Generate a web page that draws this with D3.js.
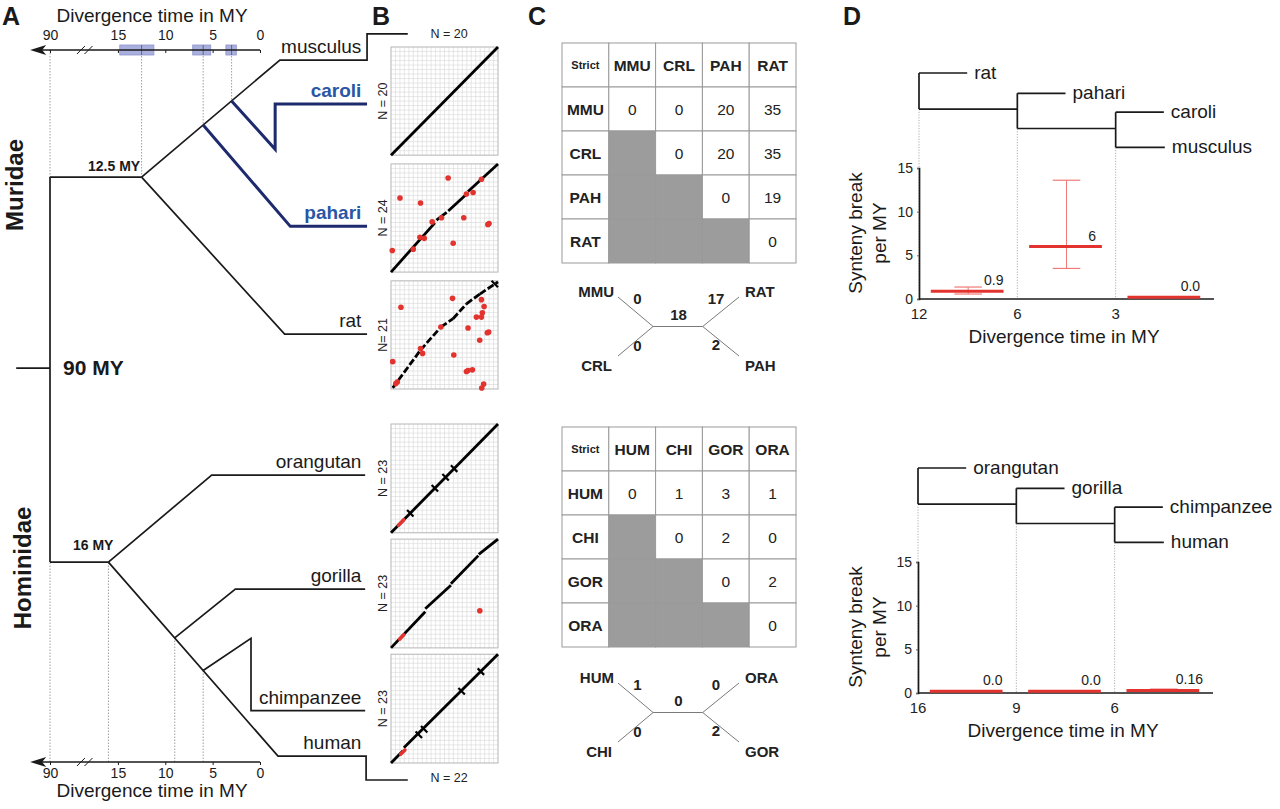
<!DOCTYPE html>
<html>
<head>
<meta charset="utf-8">
<script src="https://cdn.jsdelivr.net/npm/d3@7"></script>
<style>
  body { margin: 0; background: #fff; }
  text { font-family: "Liberation Sans", Arial, Helvetica, sans-serif; }
</style>
</head>
<body>
<svg id="fig" width="1280" height="809"></svg>
<script>
// ---------- panel A: dated trees ----------
var timeTicks = [90, 15, 10, 5, 0];
var ageBoxes = [[14.8, 11.2], [7.1, 5.2], [3.6, 2.5]];
var ageMarks = [12.5, 6, 3];
var murNodeTimes = [12.5, 6, 3];
var homNodeTimes = [16, 9, 6];
var murLeaves = [
  { name: "musculus", row: 0.052, blue: false },
  { name: "caroli", row: 0.109, blue: true },
  { name: "pahari", row: 0.268, blue: true },
  { name: "rat", row: 0.408, blue: false }
];
var homLeaves = [
  { name: "orangutan", row: 0.591 },
  { name: "gorilla", row: 0.739 },
  { name: "chimpanzee", row: 0.897 },
  { name: "human", row: 0.956 }
];

// ---------- panel B: dot plots ----------
var dotPlotsTop = [
  { n: "N = 20", segs: [[0, 0, 1, 1]], dashed: false, crosses: [], red: [], redSegs: [] },
  { n: "N = 24", dashed: false, crosses: [], redSegs: [],
    segs: [[0, 0, 0.41, 0.455], [0.425, 0.48, 0.52, 0.552], [0.535, 0.565, 0.705, 0.72], [0.72, 0.745, 1, 1]],
    red: [[0.534, 0.87], [0.084, 0.685], [0.276, 0.639], [0.845, 0.858], [0.705, 0.721], [0.767, 0.736],
          [0.68, 0.503], [0.385, 0.464], [0.472, 0.503], [0.916, 0.448], [0.905, 0.44], [0.27, 0.321],
          [0.311, 0.312], [0.581, 0.267], [0.012, 0.2], [0.208, 0.212]] },
  { n: "N= 21", dashed: true, crosses: [0.97], redSegs: [],
    segs: [[0.016, 0.01, 0.276, 0.36], [0.276, 0.36, 0.466, 0.573], [0.466, 0.573, 0.58, 0.65],
           [0.58, 0.65, 0.705, 0.787], [0.705, 0.787, 0.83, 0.878], [0.83, 0.878, 1, 0.99]],
    red: [[0.575, 0.838], [0.093, 0.756], [0.466, 0.573], [0.276, 0.375], [0.295, 0.329], [0.016, 0.253],
          [0.059, 0.064], [0.045, 0.05], [0.587, 0.314], [0.72, 0.564], [0.798, 0.665], [0.845, 0.665],
          [0.854, 0.704], [0.87, 0.762], [0.845, 0.826], [0.913, 0.527], [0.9, 0.52], [0.829, 0.451],
          [0.705, 0.162], [0.72, 0.17], [0.761, 0.177], [0.866, 0.046], [0.848, 0.009]] }
];
var dotPlotsBottom = [
  { n: "N = 23", segs: [[0, 0, 1, 1]], dashed: false, crosses: [0.18, 0.41, 0.51, 0.59],
    red: [], redSegs: [[0.07, 0.07, 0.12, 0.12]] },
  { n: "N = 23", dashed: false, crosses: [],
    segs: [[0, 0, 0.32, 0.333], [0.32, 0.36, 0.56, 0.576], [0.56, 0.59, 0.816, 0.848], [0.82, 0.86, 1, 1]],
    red: [[0.83, 0.342]], redSegs: [[0.08, 0.08, 0.12, 0.12]] },
  { n: "N = 23", dashed: false, crosses: [0.26, 0.31, 0.66, 0.84],
    segs: [[0, 0, 0.11, 0.11], [0.12, 0.14, 1, 1]],
    red: [], redSegs: [[0.09, 0.08, 0.13, 0.12]] }
];

// ---------- panel C: break tables ----------
var murCodes = ["MMU", "CRL", "PAH", "RAT"];
var murBreaks = [[0, 0, 20, 35], [null, 0, 20, 35], [null, null, 0, 19], [null, null, null, 0]];
var murUnrooted = { ul: "MMU", ll: "CRL", ur: "RAT", lr: "PAH", vul: "0", vll: "0", vmid: "18", vur: "17", vlr: "2" };
var homCodes = ["HUM", "CHI", "GOR", "ORA"];
var homBreaks = [[0, 1, 3, 1], [null, 0, 2, 0], [null, null, 0, 2], [null, null, null, 0]];
var homUnrooted = { ul: "HUM", ll: "CHI", ur: "ORA", lr: "GOR", vul: "1", vll: "0", vmid: "0", vur: "0", vlr: "2" };

// ---------- panel D: rates ----------
var murDLeaves = ["rat", "pahari", "caroli", "musculus"];
var murDTicks = ["12", "6", "3"];
var murRates = [0.9, 6, 0.2];
var murErr = [[0.57, 1.37], [3.5, 13.6], null];
var murRateLabels = ["0.9", "6", "0.0"];
var homDLeaves = ["orangutan", "gorilla", "chimpanzee", "human"];
var homDTicks = ["16", "9", "6"];
var homRates = [0.2, 0.2, 0.3];
var homErr = [null, null, [0.25, 0.45]];
var homRateLabels = ["0.0", "0.0", "0.16"];
var rateTicks = [0, 5, 10, 15];

var ink = "#1a1a1a", navy = "#1d2a6e", blue = "#2a56a6", red = "#e3332f";
var svg = d3.select("#fig");

function panelLetter(t, x) {
  svg.append("text").attr("x", x).attr("y", 25).attr("font-size", 25).attr("font-weight", "bold")
    .attr("fill", ink).text(t);
}
panelLetter("A", 2); panelLetter("B", 372); panelLetter("C", 528); panelLetter("D", 843);

// ===== A =====
var xA = d3.scaleLinear().domain([90, 19, 0]).range([50, 80, 260]);
var yA = d3.scaleLinear().domain([0, 1]).range([20, 790]);
var line = d3.line().x(function (d) { return xA(d[0]); }).y(function (d) { return yA(d[1]); });
var gA = svg.append("g");

function onDiag(a, b, t) {
  var k = (t - a[0]) / (b[0] - a[0]);
  return [t, a[1] + k * (b[1] - a[1])];
}
var murNode = [murNodeTimes[0], 0.204], murElbow = [-2.1, 0.052];
var homNode = [homNodeTimes[0], 0.704], homElbow = [-1.9, 0.956];
var tipT = -11.3, outT = -15.6;

var branches = [
  { pts: [[90, 0.204], [90, 0.704]] },
  { pts: [[170, 0.452], [90, 0.452]] },
  { pts: [[90, 0.204], murNode] },
  { pts: [murNode, murElbow, [tipT, 0.052], [tipT, 0.018], [outT, 0.018]] },
  { pts: [onDiag(murNode, murElbow, murNodeTimes[2]), [-1.6, 0.168], [-1.6, 0.109], [tipT, 0.109]], navy: true },
  { pts: [onDiag(murNode, murElbow, murNodeTimes[1]), [-3.2, 0.268], [tipT, 0.268]], navy: true },
  { pts: [murNode, [-2.6, 0.408], [tipT, 0.408]] },
  { pts: [[90, 0.704], homNode] },
  { pts: [homNode, [5.1, 0.591], [-11.1, 0.591]] },
  { pts: [homNode, homElbow, [-11.2, 0.956], [-11.2, 0.987], [outT, 0.987]] },
  { pts: [onDiag(homNode, homElbow, homNodeTimes[1]), [2.6, 0.739], [-11.1, 0.739]] },
  { pts: [onDiag(homNode, homElbow, homNodeTimes[2]), [0.95, 0.803], [0.95, 0.897], [-11.1, 0.897]] }
];

// dotted guides
var topAxisY = 50, botAxisY = 762;
var guidesTop = [[90, 0.204], murNode, onDiag(murNode, murElbow, 6), onDiag(murNode, murElbow, 3)];
var guidesBot = [[90, 0.704], homNode, onDiag(homNode, homElbow, 9), onDiag(homNode, homElbow, 6)];
guidesTop.forEach(function (p) {
  gA.append("line").attr("x1", xA(p[0])).attr("x2", xA(p[0])).attr("y1", topAxisY).attr("y2", yA(p[1]))
    .attr("stroke", "#888").attr("stroke-width", 0.8).attr("stroke-dasharray", "1.5,1.5");
});
guidesBot.forEach(function (p) {
  gA.append("line").attr("x1", xA(p[0])).attr("x2", xA(p[0])).attr("y1", botAxisY).attr("y2", yA(p[1]))
    .attr("stroke", "#888").attr("stroke-width", 0.8).attr("stroke-dasharray", "1.5,1.5");
});

branches.forEach(function (b) {
  gA.append("path").attr("d", line(b.pts)).attr("fill", "none")
    .attr("stroke", b.navy ? navy : ink).attr("stroke-width", b.navy ? 3 : 1.7)
    .attr("stroke-linejoin", "miter");
});

// age boxes on the top axis
ageBoxes.forEach(function (b) {
  gA.append("rect").attr("x", xA(b[0])).attr("y", topAxisY - 5).attr("width", xA(b[1]) - xA(b[0]))
    .attr("height", 10).attr("fill", "#aab0de").attr("stroke", "#8c93cc").attr("stroke-width", 0.8);
});
ageMarks.forEach(function (t) {
  gA.append("line").attr("x1", xA(t)).attr("x2", xA(t)).attr("y1", topAxisY - 5).attr("y2", topAxisY + 5)
    .attr("stroke", "#555").attr("stroke-width", 0.8);
});

function timeAxis(y, top) {
  var ax = (top ? d3.axisTop(xA) : d3.axisBottom(xA)).tickValues(timeTicks).tickSize(top ? -3 : 3)
    .tickPadding(top ? 10 : 3);
  var g = gA.append("g").attr("transform", "translate(0," + y + ")").call(ax);
  g.select(".domain").remove();
  g.selectAll(".tick line").attr("stroke", ink);
  g.selectAll(".tick text").attr("font-size", 14).attr("fill", ink)
    .attr("font-family", '"Liberation Sans", Arial, sans-serif');
  g.append("line").attr("x1", xA(0)).attr("x2", xA(125)).attr("y1", 0).attr("y2", 0)
    .attr("stroke", ink).attr("stroke-width", 1.4);
  var ax0 = xA(137);
  g.append("path").attr("d", "M" + ax0 + ",0 L" + (ax0 + 16) + ",-5 L" + (ax0 + 12) + ",0 L" + (ax0 + 16) + ",5 Z")
    .attr("fill", ink);
  [18.9, 18.1].forEach(function (t) {
    g.append("line").attr("x1", xA(t) - 4).attr("x2", xA(t) + 4).attr("y1", 4).attr("y2", -4)
      .attr("stroke", ink).attr("stroke-width", 1);
  });
  gA.append("text").attr("x", 152).attr("y", top ? 22 : 797).attr("text-anchor", "middle")
    .attr("font-size", 19).attr("fill", ink).text("Divergence time in MY");
}
timeAxis(topAxisY, true);
timeAxis(botAxisY, false);

murLeaves.forEach(function (l) {
  gA.append("text").attr("x", xA(-10.7)).attr("y", yA(l.row) - 7).attr("text-anchor", "end")
    .attr("font-size", 19).attr("font-weight", l.blue ? "bold" : "normal")
    .attr("fill", l.blue ? blue : ink).text(l.name);
});
homLeaves.forEach(function (l) {
  gA.append("text").attr("x", xA(-10.7)).attr("y", yA(l.row) - 7).attr("text-anchor", "end")
    .attr("font-size", 19).attr("fill", ink).text(l.name);
});

gA.append("text").attr("x", 88).attr("y", 171).attr("font-size", 14).attr("font-weight", "bold")
  .attr("fill", ink).text(murNodeTimes[0] + " MY");
gA.append("text").attr("x", 73).attr("y", 550).attr("font-size", 14).attr("font-weight", "bold")
  .attr("fill", ink).text(homNodeTimes[0] + " MY");
gA.append("text").attr("x", 63).attr("y", 375).attr("font-size", 21).attr("font-weight", "bold")
  .attr("fill", ink).text("90 MY");
gA.append("text").attr("transform", "translate(23,185) rotate(-90)").attr("text-anchor", "middle")
  .attr("font-size", 24).attr("font-weight", "bold").attr("fill", ink).text("Muridae");
gA.append("text").attr("transform", "translate(31,568) rotate(-90)").attr("text-anchor", "middle")
  .attr("font-size", 24).attr("font-weight", "bold").attr("fill", ink).text("Hominidae");

// ===== B =====
var gB = svg.append("g");
var xB = d3.scaleLinear().domain([0, 1]).range([391, 498]);
var bandTop = d3.scaleBand().domain(d3.range(3)).range([47, 389]).paddingInner(0.075);
var bandBot = d3.scaleBand().domain(d3.range(3)).range([424, 763]).paddingInner(0.055);

function dotPlot(p, y0, h) {
  var yB = d3.scaleLinear().domain([0, 1]).range([y0 + h, y0]);
  var g = gB.append("g");
  g.append("rect").attr("x", xB(0)).attr("y", y0).attr("width", xB(1) - xB(0)).attr("height", h)
    .attr("fill", "#fff");
  d3.range(1, 24).forEach(function (i) {
    var f = i / 24;
    g.append("line").attr("x1", xB(f)).attr("x2", xB(f)).attr("y1", y0).attr("y2", y0 + h)
      .attr("stroke", "#d6d6d6").attr("stroke-width", 0.6);
    g.append("line").attr("x1", xB(0)).attr("x2", xB(1)).attr("y1", yB(f)).attr("y2", yB(f))
      .attr("stroke", "#d6d6d6").attr("stroke-width", 0.6);
  });
  g.append("rect").attr("x", xB(0)).attr("y", y0).attr("width", xB(1) - xB(0)).attr("height", h)
    .attr("fill", "none").attr("stroke", "#b5b5b5").attr("stroke-width", 1);
  p.segs.forEach(function (s) {
    g.append("line").attr("x1", xB(s[0])).attr("y1", yB(s[1])).attr("x2", xB(s[2])).attr("y2", yB(s[3]))
      .attr("stroke", "#000").attr("stroke-width", 2.8)
      .attr("stroke-dasharray", p.dashed ? "7,2.5" : null);
  });
  p.crosses.forEach(function (f) {
    g.append("line").attr("x1", xB(f - 0.03)).attr("y1", yB(f + 0.03)).attr("x2", xB(f + 0.03)).attr("y2", yB(f - 0.03))
      .attr("stroke", "#000").attr("stroke-width", 2.2);
  });
  p.redSegs.forEach(function (s) {
    g.append("line").attr("x1", xB(s[0])).attr("y1", yB(s[1])).attr("x2", xB(s[2])).attr("y2", yB(s[3]))
      .attr("stroke", red).attr("stroke-width", 3.6).attr("stroke-linecap", "round");
  });
  g.selectAll("circle.r").data(p.red).enter().append("circle")
    .attr("cx", function (d) { return xB(d[0]); }).attr("cy", function (d) { return yB(d[1]); })
    .attr("r", 2.8).attr("fill", red);
  g.append("text").attr("transform", "translate(387," + (y0 + h / 2) + ") rotate(-90)")
    .attr("text-anchor", "middle").attr("font-size", 12.5).attr("fill", "#222").text(p.n);
}
dotPlotsTop.forEach(function (p, i) { dotPlot(p, bandTop(i), bandTop.bandwidth()); });
dotPlotsBottom.forEach(function (p, i) { dotPlot(p, bandBot(i), bandBot.bandwidth()); });
gB.append("text").attr("x", 449).attr("y", 38).attr("text-anchor", "middle").attr("font-size", 12.5)
  .attr("fill", "#222").text("N = 20");
gB.append("text").attr("x", 449).attr("y", 782).attr("text-anchor", "middle").attr("font-size", 12.5)
  .attr("fill", "#222").text("N = 22");

// ===== C =====
var gC = svg.append("g");
var colC = d3.scaleBand().domain(d3.range(5)).range([562, 796]);

function breakTable(top, codes, vals) {
  var rowC = d3.scaleBand().domain(d3.range(5)).range([top, top + 220]);
  var cw = colC.bandwidth(), rh = rowC.bandwidth();
  d3.range(5).forEach(function (r) {
    d3.range(5).forEach(function (c) {
      var filled = r > 0 && c > 0 && vals[r - 1][c - 1] === null;
      gC.append("rect").attr("x", colC(c)).attr("y", rowC(r)).attr("width", cw).attr("height", rh)
        .attr("fill", filled ? "#9c9c9c" : "#fff").attr("stroke", "#999").attr("stroke-width", 1);
      var txt = null, bold = false, fs = 15.5;
      if (r === 0 && c === 0) { txt = "Strict"; bold = true; fs = 11; }
      else if (r === 0) { txt = codes[c - 1]; bold = true; }
      else if (c === 0) { txt = codes[r - 1]; bold = true; }
      else if (!filled) { txt = String(vals[r - 1][c - 1]); }
      if (txt !== null) {
        gC.append("text").attr("x", colC(c) + cw / 2).attr("y", rowC(r) + rh / 2 + fs * 0.36)
          .attr("text-anchor", "middle").attr("font-size", fs).attr("font-weight", bold ? "bold" : "normal")
          .attr("fill", "#222").text(txt);
      }
    });
  });
}
breakTable(43, murCodes, murBreaks);
breakTable(427, homCodes, homBreaks);

function unrooted(cy, t) {
  var ux = d3.scaleLinear().domain([-1, 1]).range([618, 739]);
  var uy = d3.scaleLinear().domain([-1, 1]).range([cy - 30, cy + 29]);
  var segs = [[-1, -1, -0.42, 0], [-1, 1, -0.42, 0], [-0.42, 0, 0.4, 0], [0.4, 0, 1, -1], [0.4, 0, 1, 1]];
  segs.forEach(function (s) {
    gC.append("line").attr("x1", ux(s[0])).attr("y1", uy(s[1])).attr("x2", ux(s[2])).attr("y2", uy(s[3]))
      .attr("stroke", "#7a7a7a").attr("stroke-width", 1);
  });
  function lab(x, y, s, anchor) {
    gC.append("text").attr("x", x).attr("y", y).attr("text-anchor", anchor).attr("font-size", 15)
      .attr("font-weight", "bold").attr("fill", "#222").text(s);
  }
  lab(ux(-1) - 4, uy(-1), t.ul, "end");
  lab(ux(-1) - 6, uy(1) + 15, t.ll, "end");
  lab(ux(1) + 6, uy(-1), t.ur, "start");
  lab(ux(1) + 6, uy(1) + 15, t.lr, "start");
  lab(ux(-0.68), uy(-0.75), t.vul, "middle");
  lab(ux(-0.68), uy(0.83), t.vll, "middle");
  lab(ux(0), uy(-0.22), t.vmid, "middle");
  lab(ux(0.62), uy(-0.75), t.vur, "middle");
  lab(ux(0.62), uy(0.8), t.vlr, "middle");
}
unrooted(327, murUnrooted);
unrooted(713, homUnrooted);

// ===== D =====
var gD = svg.append("g");
function ratePanel(opts) {
  var x = d3.scaleLinear().domain([0, 3]).range([opts.x0, opts.x0 + 295]);
  var y = d3.scaleLinear().domain([0, 15]).range([opts.axisY, opts.axisY - 131]);
  var yt = d3.scaleLinear().domain([0, 4]).range([opts.treeY, opts.treeY + 74]);
  var topRow = [0, 1.1, 2.12], botRow = [1.95, 3.0, 4.02];

  // guides
  d3.range(3).forEach(function (i) {
    gD.append("line").attr("x1", x(i)).attr("x2", x(i)).attr("y1", yt(botRow[i])).attr("y2", opts.axisY)
      .attr("stroke", "#999").attr("stroke-width", 0.8).attr("stroke-dasharray", "1.2,1.5");
  });
  // ladder tree
  d3.range(3).forEach(function (i) {
    gD.append("line").attr("x1", x(i)).attr("x2", x(i)).attr("y1", yt(topRow[i])).attr("y2", yt(botRow[i]))
      .attr("stroke", ink).attr("stroke-width", 1.7);
    gD.append("line").attr("x1", x(i)).attr("x2", x(i + 0.49)).attr("y1", yt(topRow[i])).attr("y2", yt(topRow[i]))
      .attr("stroke", ink).attr("stroke-width", 1.7);
    gD.append("text").attr("x", x(i + 0.49) + 7).attr("y", yt(topRow[i]) + 6).attr("font-size", 19)
      .attr("fill", ink).text(opts.leaves[i]);
    var end = i < 2 ? x(i + 1) : x(i + 0.5);
    gD.append("line").attr("x1", x(i)).attr("x2", end).attr("y1", yt(botRow[i])).attr("y2", yt(botRow[i]))
      .attr("stroke", ink).attr("stroke-width", 1.7);
  });
  gD.append("text").attr("x", x(2.5) + 7).attr("y", yt(botRow[2]) + 6).attr("font-size", 19)
    .attr("fill", ink).text(opts.leaves[3]);

  // axes
  var ya = d3.axisLeft(y).tickValues(rateTicks).tickSize(2).tickPadding(4);
  var gy = gD.append("g").attr("transform", "translate(" + x(0) + ",0)").call(ya);
  gy.select(".domain").attr("stroke", ink).attr("stroke-width", 1.7);
  gy.selectAll(".tick line").attr("stroke", "#666");
  gy.selectAll(".tick text").attr("font-size", 14).attr("fill", "#222")
    .attr("font-family", '"Liberation Sans", Arial, sans-serif');
  gD.append("line").attr("x1", x(0)).attr("x2", x(3)).attr("y1", opts.axisY).attr("y2", opts.axisY)
    .attr("stroke", ink).attr("stroke-width", 1.7);
  opts.ticks.forEach(function (t, i) {
    gD.append("text").attr("x", x(i)).attr("y", opts.axisY + 20).attr("text-anchor", "middle")
      .attr("font-size", 15).attr("fill", "#222").text(t);
  });
  gD.append("text").attr("x", opts.x0 + 145).attr("y", opts.axisY + 44).attr("text-anchor", "middle")
    .attr("font-size", 19).attr("fill", ink).text("Divergence time in MY");
  var cyT = opts.axisY - 66;
  gD.append("text").attr("transform", "translate(862," + cyT + ") rotate(-90)").attr("text-anchor", "middle")
    .attr("font-size", 19).attr("fill", ink).text("Synteny break");
  gD.append("text").attr("transform", "translate(886," + cyT + ") rotate(-90)").attr("text-anchor", "middle")
    .attr("font-size", 19).attr("fill", ink).text("per MY");

  // rates
  opts.rates.forEach(function (v, i) {
    var e = opts.err[i];
    if (e) {
      var cx = x(i + 0.5);
      gD.append("line").attr("x1", cx).attr("x2", cx).attr("y1", y(e[0])).attr("y2", y(e[1]))
        .attr("stroke", "#f07a78").attr("stroke-width", 1);
      e.forEach(function (ev) {
        gD.append("line").attr("x1", x(i + 0.36)).attr("x2", x(i + 0.64)).attr("y1", y(ev)).attr("y2", y(ev))
          .attr("stroke", "#f07a78").attr("stroke-width", 1.2);
      });
    }
    gD.append("line").attr("x1", x(i + 0.12)).attr("x2", x(i + 0.86)).attr("y1", y(v)).attr("y2", y(v))
      .attr("stroke", red).attr("stroke-width", 3);
    gD.append("text").attr("x", x(i + 0.76)).attr("y", y(v) - 6).attr("text-anchor", "middle")
      .attr("font-size", 14).attr("fill", "#222").text(opts.labels[i]);
  });
}
ratePanel({ x0: 919, axisY: 299, treeY: 73, leaves: murDLeaves, ticks: murDTicks,
  rates: murRates, err: murErr, labels: murRateLabels });
ratePanel({ x0: 918, axisY: 693, treeY: 468, leaves: homDLeaves, ticks: homDTicks,
  rates: homRates, err: homErr, labels: homRateLabels });
</script>
</body>
</html>
